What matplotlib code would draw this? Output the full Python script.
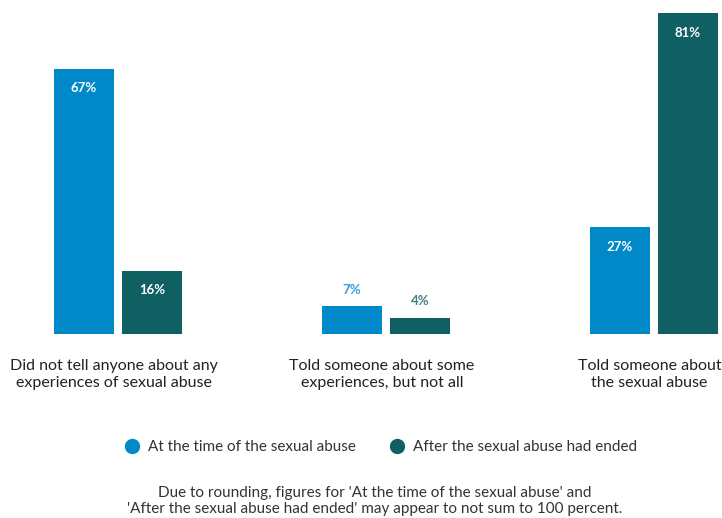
import numpy as np
import matplotlib.pyplot as plt
from matplotlib.lines import Line2D

plt.rcParams['font.family'] = ['Lato', 'DejaVu Sans']

categories = ['Did not tell anyone about any\nexperiences of sexual abuse',
              'Told someone about some\nexperiences, but not all',
              'Told someone about\nthe sexual abuse']
at_time = [67, 7, 27]
after_end = [16, 4, 81]
series_names = ['At the time of the sexual abuse', 'After the sexual abuse had ended']

blue = '#0088C9'
teal = '#105F63'

W, H = 722, 518
fig = plt.figure(figsize=(W / 100, H / 100), dpi=100)

# axes spans whole width, baseline at y=334 px
ax = fig.add_axes([0, (H - 334) / H, 1, 334 / H])
unit = 267.75
ax.set_xlim(-118 / unit, (W - 118) / unit)
ax.set_ylim(0, 334 / 3.96)
ax.axis('off')

x = np.arange(len(categories))
off = 34 / unit
bw = 60 / unit
b1 = ax.bar(x - off, at_time, bw, color=blue)
b2 = ax.bar(x + off, after_end, bw, color=teal)

for bars, vals, col in [(b1, at_time, blue), (b2, after_end, teal)]:
    for rect, v in zip(bars, vals):
        cx = rect.get_x() + rect.get_width() / 2
        if v >= 12:
            ax.annotate(f'{v}%', (cx, v), xytext=(0, -14), textcoords='offset points',
                        ha='center', va='center', color='white', fontsize=9.5,
                        fontweight='bold')
        else:
            ax.annotate(f'{v}%', (cx, v), xytext=(0, 12), textcoords='offset points',
                        ha='center', va='center', color=col, fontsize=9.5,
                        fontweight='bold', alpha=0.8)

for xi, lab in zip(x, categories):
    ax.annotate(lab, (xi, 0), xytext=(-2.8, -18), textcoords='offset points',
                ha='center', va='top', fontsize=11.5, color='#222222',
                linespacing=1.25, annotation_clip=False)

handles = [Line2D([], [], marker='o', ls='', color=blue, markersize=10),
           Line2D([], [], marker='o', ls='', color=teal, markersize=10)]
fig.legend(handles, series_names, loc='center', bbox_to_anchor=(380 / W, 1 - 447 / H),
           ncol=2, frameon=False, fontsize=11, handlelength=1.2, handletextpad=0.4,
           columnspacing=2.15, labelcolor='#333333')

fig.text(375 / W, 1 - 501 / H,
         "Due to rounding, figures for 'At the time of the sexual abuse' and\n"
         "'After the sexual abuse had ended' may appear to not sum to 100 percent.",
         ha='center', va='center', fontsize=11, color='#333333', linespacing=1.1)

fig.savefig('out.png', dpi=100, facecolor='white')
